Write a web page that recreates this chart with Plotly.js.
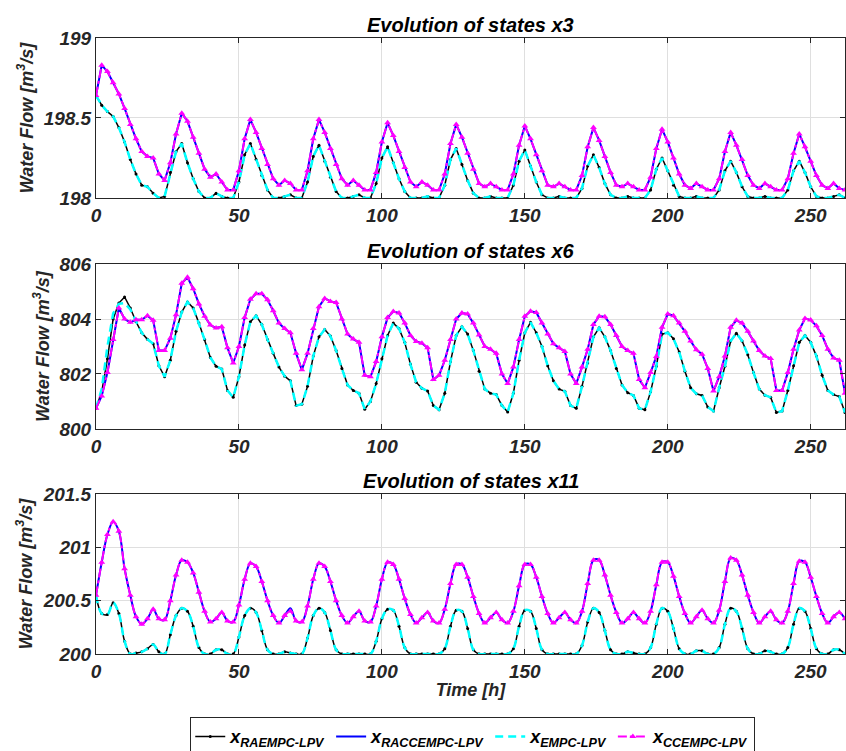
<!DOCTYPE html>
<html><head><meta charset="utf-8">
<script src="https://cdn.plot.ly/plotly-3.0.1.min.js"></script>
<style>html,body{margin:0;padding:0;background:#fff}#chart{width:846px;height:751px}</style>
</head><body><div id="chart"></div>
<script>
// sampling step of the series, in hours
const hoursPerSample = 2;

// ---------- State x3 ----------
const x3_ra = [
198.64,198.58,198.54,198.51,198.44,198.35,198.24,198.15,198.08,198.07,198.03,198.00,
198.01,198.16,198.29,198.34,198.22,198.12,198.04,198.00,198.00,198.03,198.01,198.00,
198.00,198.10,198.27,198.34,198.24,198.14,198.05,198.00,198.00,198.01,198.02,198.00,
198.00,198.10,198.26,198.33,198.23,198.13,198.04,198.00,198.00,198.01,198.02,198.00,
198.00,198.09,198.25,198.32,198.22,198.12,198.04,198.00,198.00,198.00,198.01,198.00,
198.00,198.08,198.24,198.31,198.21,198.11,198.03,198.00,198.00,198.01,198.00,198.00,
198.00,198.08,198.23,198.30,198.20,198.10,198.02,198.00,198.00,198.01,198.00,198.00,
198.00,198.06,198.20,198.27,198.19,198.09,198.02,198.00,198.00,198.01,198.00,198.00,
198.00,198.05,198.18,198.25,198.17,198.08,198.01,198.00,198.00,198.01,198.00,198.00,
198.00,198.05,198.17,198.23,198.16,198.07,198.01,198.00,198.00,198.01,198.00,198.00,
198.00,198.05,198.17,198.23,198.16,198.07,198.01,198.00,198.00,198.01,198.02,198.00];
const x3_racc = [
198.64,198.83,198.79,198.72,198.65,198.56,198.46,198.37,198.29,198.26,198.25,198.15,
198.11,198.22,198.40,198.53,198.48,198.38,198.28,198.18,198.13,198.15,198.10,198.05,
198.05,198.17,198.37,198.49,198.41,198.31,198.21,198.12,198.08,198.11,198.09,198.05,
198.05,198.17,198.37,198.49,198.41,198.31,198.21,198.12,198.08,198.11,198.08,198.05,
198.05,198.16,198.35,198.47,198.39,198.29,198.19,198.10,198.07,198.10,198.08,198.05,
198.05,198.15,198.34,198.46,198.38,198.28,198.18,198.09,198.07,198.09,198.07,198.05,
198.05,198.15,198.33,198.45,198.37,198.27,198.17,198.08,198.07,198.09,198.07,198.05,
198.05,198.14,198.32,198.44,198.36,198.26,198.16,198.08,198.07,198.09,198.07,198.05,
198.05,198.13,198.31,198.43,198.35,198.25,198.15,198.08,198.06,198.09,198.07,198.05,
198.05,198.12,198.29,198.41,198.33,198.24,198.14,198.08,198.06,198.09,198.07,198.05,
198.05,198.12,198.28,198.40,198.32,198.23,198.14,198.08,198.06,198.09,198.06,198.05];
const x3_empc = [
198.64,198.58,198.54,198.51,198.44,198.35,198.24,198.15,198.08,198.07,198.03,198.00,
198.01,198.16,198.29,198.34,198.22,198.12,198.04,198.00,198.00,198.03,198.01,198.00,
198.00,198.10,198.27,198.34,198.24,198.14,198.05,198.00,198.00,198.01,198.02,198.00,
198.00,198.10,198.26,198.33,198.23,198.13,198.04,198.00,198.00,198.01,198.02,198.00,
198.00,198.09,198.25,198.32,198.22,198.12,198.04,198.00,198.00,198.00,198.01,198.00,
198.00,198.08,198.24,198.31,198.21,198.11,198.03,198.00,198.00,198.01,198.00,198.00,
198.00,198.08,198.23,198.30,198.20,198.10,198.02,198.00,198.00,198.01,198.00,198.00,
198.00,198.06,198.20,198.27,198.19,198.09,198.02,198.00,198.00,198.01,198.00,198.00,
198.00,198.05,198.18,198.25,198.17,198.08,198.01,198.00,198.00,198.01,198.00,198.00,
198.00,198.05,198.17,198.23,198.16,198.07,198.01,198.00,198.00,198.01,198.00,198.00,
198.00,198.05,198.17,198.23,198.16,198.07,198.01,198.00,198.00,198.01,198.02,198.00];
const x3_cc = [
198.64,198.83,198.79,198.72,198.65,198.56,198.46,198.37,198.29,198.26,198.25,198.15,
198.11,198.22,198.40,198.53,198.48,198.38,198.28,198.18,198.13,198.15,198.10,198.05,
198.05,198.17,198.37,198.49,198.41,198.31,198.21,198.12,198.08,198.11,198.09,198.05,
198.05,198.17,198.37,198.49,198.41,198.31,198.21,198.12,198.08,198.11,198.08,198.05,
198.05,198.16,198.35,198.47,198.39,198.29,198.19,198.10,198.07,198.10,198.08,198.05,
198.05,198.15,198.34,198.46,198.38,198.28,198.18,198.09,198.07,198.09,198.07,198.05,
198.05,198.15,198.33,198.45,198.37,198.27,198.17,198.08,198.07,198.09,198.07,198.05,
198.05,198.14,198.32,198.44,198.36,198.26,198.16,198.08,198.07,198.09,198.07,198.05,
198.05,198.13,198.31,198.43,198.35,198.25,198.15,198.08,198.06,198.09,198.07,198.05,
198.05,198.12,198.29,198.41,198.33,198.24,198.14,198.08,198.06,198.09,198.07,198.05,
198.05,198.12,198.28,198.40,198.32,198.23,198.14,198.08,198.06,198.09,198.06,198.05];

// ---------- State x6 ----------
const x6_ra = [
800.75,801.35,802.55,804.00,804.58,804.80,804.40,803.90,803.50,803.26,803.10,802.30,
801.90,802.50,803.55,804.25,804.62,804.40,803.85,803.25,802.60,802.28,802.18,801.40,
801.15,801.90,803.05,803.90,804.12,803.80,803.25,802.75,802.25,801.92,801.75,800.85,
800.90,801.55,802.65,803.35,803.62,803.38,802.85,802.20,801.60,801.40,801.30,800.72,
801.00,801.65,802.55,803.40,803.85,803.65,803.15,802.35,801.70,801.48,801.38,800.85,
800.70,801.30,802.45,803.40,803.72,803.45,802.85,802.10,801.45,801.30,801.25,800.85,
800.62,801.30,802.50,803.50,803.88,803.50,803.00,802.30,801.75,801.45,801.37,800.85,
800.75,801.55,802.40,803.35,803.68,803.35,802.85,802.20,801.60,801.32,801.22,800.75,
800.70,801.35,802.28,803.45,803.50,803.28,802.80,802.10,801.50,801.28,801.22,800.80,
800.65,801.50,802.28,803.20,803.48,803.20,802.70,802.05,801.45,801.23,801.15,800.60,
800.65,801.40,802.30,803.15,803.40,803.15,802.65,801.95,801.40,801.25,801.18,800.60];
const x6_racc = [
800.75,801.20,802.05,803.25,804.40,804.00,803.88,803.97,803.97,804.12,803.95,802.85,
802.85,803.30,804.15,805.30,805.52,805.10,804.55,804.10,803.78,803.67,803.72,802.95,
802.40,803.00,804.05,804.72,804.92,804.92,804.70,804.30,803.85,803.65,803.50,802.75,
802.15,802.75,803.65,804.45,804.75,804.64,804.60,804.00,803.45,803.27,803.15,801.95,
801.90,802.45,803.35,804.05,804.27,804.22,803.85,803.40,803.18,803.12,802.95,801.80,
801.95,802.50,803.25,804.00,804.22,804.18,803.85,803.42,803.00,802.90,802.75,802.00,
801.65,802.25,803.25,804.10,804.28,804.24,803.85,803.45,803.10,802.95,802.82,802.00,
801.65,802.25,802.90,803.80,804.10,804.08,803.80,803.40,803.00,802.85,802.75,801.80,
801.50,802.05,802.64,803.70,804.18,804.12,803.85,803.55,803.20,802.88,802.72,802.20,
801.38,801.90,802.65,803.70,803.95,803.85,803.55,803.20,802.85,802.65,802.56,801.40,
801.40,802.05,802.90,803.60,804.02,803.96,803.75,803.40,802.90,802.58,802.50,801.30];
const x6_empc = [
800.75,801.45,803.00,804.20,804.55,804.58,804.35,803.90,803.50,803.26,803.10,802.30,
801.90,802.50,803.55,804.25,804.62,804.40,803.85,803.25,802.60,802.28,802.18,801.40,
801.15,801.90,803.05,803.90,804.12,803.80,803.25,802.75,802.25,801.92,801.75,800.85,
800.90,801.55,802.65,803.35,803.62,803.38,802.85,802.20,801.60,801.40,801.30,800.72,
801.00,801.65,802.55,803.40,803.85,803.65,803.15,802.35,801.70,801.48,801.38,800.85,
800.70,801.30,802.45,803.40,803.72,803.45,802.85,802.10,801.45,801.30,801.25,800.85,
800.62,801.30,802.50,803.50,803.88,803.50,803.00,802.30,801.75,801.45,801.37,800.85,
800.75,801.55,802.40,803.35,803.68,803.35,802.85,802.20,801.60,801.32,801.22,800.75,
800.70,801.35,802.28,803.45,803.50,803.28,802.80,802.10,801.50,801.28,801.22,800.80,
800.65,801.50,802.28,803.20,803.48,803.20,802.70,802.05,801.45,801.23,801.15,800.60,
800.65,801.40,802.30,803.15,803.40,803.15,802.65,801.95,801.40,801.25,801.18,800.60];
const x6_cc = [
800.75,801.20,802.05,803.25,804.40,804.00,803.88,803.97,803.97,804.12,803.95,802.85,
802.85,803.30,804.15,805.30,805.52,805.10,804.55,804.10,803.78,803.67,803.72,802.95,
802.40,803.00,804.05,804.72,804.92,804.92,804.70,804.30,803.85,803.65,803.50,802.75,
802.15,802.75,803.65,804.45,804.75,804.64,804.60,804.00,803.45,803.27,803.15,801.95,
801.90,802.45,803.35,804.05,804.27,804.22,803.85,803.40,803.18,803.12,802.95,801.80,
801.95,802.50,803.25,804.00,804.22,804.18,803.85,803.42,803.00,802.90,802.75,802.00,
801.65,802.25,803.25,804.10,804.28,804.24,803.85,803.45,803.10,802.95,802.82,802.00,
801.65,802.25,802.90,803.80,804.10,804.08,803.80,803.40,803.00,802.85,802.75,801.80,
801.50,802.05,802.64,803.70,804.18,804.12,803.85,803.55,803.20,802.88,802.72,802.20,
801.38,801.90,802.65,803.70,803.95,803.85,803.55,803.20,802.85,802.65,802.56,801.40,
801.40,802.05,802.90,803.60,804.02,803.96,803.75,803.40,802.90,802.58,802.50,801.30];

// ---------- State x11 ----------
const x11_ra = [
200.55,200.38,200.37,200.48,200.38,200.12,200.00,200.01,200.02,200.05,200.09,200.02,
200.00,200.18,200.36,200.43,200.40,200.26,200.06,200.00,200.00,200.04,200.04,200.00,
200.00,200.16,200.36,200.43,200.39,200.22,200.04,200.00,200.00,200.02,200.01,200.00,
200.00,200.15,200.36,200.43,200.39,200.22,200.04,200.00,200.00,200.00,200.00,200.00,
200.00,200.12,200.33,200.42,200.41,200.26,200.06,200.00,200.00,200.00,200.00,200.00,
200.00,200.05,200.26,200.41,200.40,200.24,200.04,200.00,200.00,200.00,200.00,200.00,
200.00,200.05,200.26,200.41,200.40,200.24,200.04,200.00,200.00,200.00,200.00,200.00,
200.00,200.08,200.30,200.43,200.39,200.22,200.04,200.00,200.00,200.02,200.01,200.00,
200.00,200.06,200.28,200.43,200.40,200.24,200.05,200.00,200.00,200.03,200.03,200.00,
200.00,200.06,200.28,200.43,200.40,200.24,200.05,200.00,200.00,200.03,200.02,200.00,
200.00,200.06,200.28,200.43,200.40,200.24,200.05,200.00,200.00,200.04,200.04,200.00];
const x11_racc = [
200.55,200.86,201.12,201.24,201.15,200.80,200.55,200.35,200.28,200.33,200.42,200.33,
200.32,200.50,200.74,200.88,200.86,200.76,200.58,200.40,200.30,200.33,200.39,200.31,
200.30,200.46,200.70,200.85,200.82,200.68,200.50,200.36,200.29,200.36,200.43,200.31,
200.30,200.45,200.70,200.85,200.82,200.68,200.50,200.36,200.29,200.35,200.40,200.31,
200.30,200.45,200.70,200.86,200.84,200.70,200.52,200.37,200.29,200.34,200.39,200.31,
200.29,200.42,200.66,200.84,200.84,200.72,200.54,200.38,200.29,200.34,200.39,200.32,
200.29,200.40,200.64,200.84,200.84,200.72,200.54,200.38,200.29,200.34,200.39,200.32,
200.29,200.40,200.66,200.88,200.88,200.74,200.55,200.39,200.29,200.33,200.39,200.33,
200.29,200.40,200.65,200.86,200.86,200.73,200.54,200.38,200.29,200.35,200.41,200.33,
200.29,200.41,200.68,200.90,200.88,200.74,200.55,200.39,200.29,200.35,200.40,200.32,
200.29,200.40,200.66,200.87,200.86,200.72,200.54,200.38,200.29,200.35,200.39,200.33];
const x11_empc = [
200.55,200.38,200.37,200.48,200.38,200.12,200.00,200.01,200.02,200.05,200.09,200.02,
200.00,200.18,200.36,200.43,200.40,200.26,200.06,200.00,200.00,200.04,200.04,200.00,
200.00,200.16,200.36,200.43,200.39,200.22,200.04,200.00,200.00,200.02,200.01,200.00,
200.00,200.15,200.36,200.43,200.39,200.22,200.04,200.00,200.00,200.00,200.00,200.00,
200.00,200.12,200.33,200.42,200.41,200.26,200.06,200.00,200.00,200.00,200.00,200.00,
200.00,200.05,200.26,200.41,200.40,200.24,200.04,200.00,200.00,200.00,200.00,200.00,
200.00,200.05,200.26,200.41,200.40,200.24,200.04,200.00,200.00,200.00,200.00,200.00,
200.00,200.08,200.30,200.43,200.39,200.22,200.04,200.00,200.00,200.02,200.01,200.00,
200.00,200.06,200.28,200.43,200.40,200.24,200.05,200.00,200.00,200.03,200.03,200.00,
200.00,200.06,200.28,200.43,200.40,200.24,200.05,200.00,200.00,200.03,200.02,200.00,
200.00,200.06,200.28,200.43,200.40,200.24,200.05,200.00,200.00,200.04,200.04,200.00];
const x11_cc = [
200.55,200.86,201.12,201.24,201.15,200.80,200.55,200.35,200.28,200.33,200.42,200.33,
200.32,200.50,200.74,200.88,200.86,200.76,200.58,200.40,200.30,200.33,200.39,200.31,
200.30,200.46,200.70,200.85,200.82,200.68,200.50,200.36,200.29,200.36,200.40,200.31,
200.30,200.45,200.70,200.85,200.82,200.68,200.50,200.36,200.29,200.35,200.40,200.31,
200.30,200.45,200.70,200.86,200.84,200.70,200.52,200.37,200.29,200.34,200.39,200.31,
200.29,200.42,200.66,200.84,200.84,200.72,200.54,200.38,200.29,200.34,200.39,200.32,
200.29,200.40,200.64,200.84,200.84,200.72,200.54,200.38,200.29,200.34,200.39,200.32,
200.29,200.40,200.66,200.88,200.88,200.74,200.55,200.39,200.29,200.33,200.39,200.33,
200.29,200.40,200.65,200.86,200.86,200.73,200.54,200.38,200.29,200.35,200.41,200.33,
200.29,200.41,200.68,200.90,200.88,200.74,200.55,200.39,200.29,200.35,200.40,200.32,
200.29,200.40,200.66,200.87,200.86,200.72,200.54,200.38,200.29,200.35,200.39,200.33];

// ---------- labels ----------
const seriesNames = ['x<sub>RAEMPC-LPV</sub>','x<sub>RACCEMPC-LPV</sub>','x<sub>EMPC-LPV</sub>','x<sub>CCEMPC-LPV</sub>'];
const panelTitles = ['Evolution of states x3','Evolution of states x6','Evolution of states x11'];
const yTitle = 'Water Flow [m<sup>3</sup>/s]';
const xTitle = 'Time [h]';
const xTicks = [0,50,100,150,200,250];
const yTicks = [[198,198.5,199],[800,802,804,806],[200,200.5,201,201.5]];
const yRanges = [[198,199],[800,806],[200,201.5]];

const time = x3_ra.map((_, i) => i * hoursPerSample);

const FONT = '"Liberation Sans", Arial, Helvetica, sans-serif';
const styles = [
  {line:{color:'#000000', width:1.5, dash:'solid'}, mode:'lines+markers', marker:{symbol:'circle', size:3, color:'#000000'}},
  {line:{color:'#0000ff', width:2, dash:'solid'}, mode:'lines'},
  {line:{color:'#00ffff', width:2.5, dash:'8px,5px'}, mode:'lines'},
  {line:{color:'#ff00ff', width:2, dash:'dashdot'}, mode:'lines+markers', marker:{symbol:'triangle-up', size:6, color:'#ff00ff'}}
];
const panels = [
  [x3_ra, x3_racc, x3_empc, x3_cc],
  [x6_ra, x6_racc, x6_empc, x6_cc],
  [x11_ra, x11_racc, x11_empc, x11_cc]
];
const shapes = ['linear','linear','spline'];

const traces = [];
panels.forEach((series, p) => {
  series.forEach((vals, s) => {
    const st = styles[s];
    const tr = {
      x: time, y: vals, type: 'scatter', mode: st.mode,
      name: seriesNames[s], legendgroup: 's' + s, showlegend: p === 0,
      line: Object.assign({shape: shapes[p]}, st.line),
      xaxis: p === 0 ? 'x' : 'x' + (p + 1),
      yaxis: p === 0 ? 'y' : 'y' + (p + 1)
    };
    if (st.marker) tr.marker = st.marker;
    traces.push(tr);
  });
});

const tickFont = {family: FONT, size: 19, color: '#262626', weight: 'bold', style: 'italic'};
const domains = [[0.7403, 1], [0.3653, 0.6331], [0, 0.2597]];

function xAxis(p) {
  const a = {
    domain: [0, 1], anchor: p === 0 ? 'y' : 'y' + (p + 1), range: [0, 262],
    tickvals: xTicks, showgrid: true, gridcolor: '#dfdfdf', gridwidth: 1,
    showline: true, mirror: 'ticks', linecolor: '#262626', linewidth: 1,
    ticks: 'inside', ticklen: 5, tickcolor: '#262626', tickfont: tickFont, zeroline: false,
    automargin: false
  };
  if (p === 2) a.title = {text: xTitle, font: {family: FONT, size: 18, color: '#262626', weight: 'bold', style: 'italic'}, standoff: 2};
  return a;
}
function yAxis(p) {
  return {
    domain: domains[p], anchor: p === 0 ? 'x' : 'x' + (p + 1), range: yRanges[p],
    tickvals: yTicks[p], showgrid: true, gridcolor: '#dfdfdf', gridwidth: 1,
    showline: true, mirror: 'ticks', linecolor: '#262626', linewidth: 1,
    ticks: 'inside', ticklen: 5, tickcolor: '#262626', tickfont: tickFont, zeroline: false,
    automargin: false,
    title: {text: yTitle, font: {family: FONT, size: 18, color: '#262626', weight: 'bold', style: 'italic'}, standoff: 5}
  };
}

const layout = {
  width: 846, height: 751,
  margin: {l: 96, r: 1, t: 38, b: 97},
  paper_bgcolor: '#ffffff', plot_bgcolor: '#ffffff',
  font: {family: FONT},
  showlegend: true,
  legend: {
    orientation: 'h', xref: 'paper', x: 0.503, xanchor: 'center',
    yref: 'container', y: 0.045, yanchor: 'top',
    bordercolor: '#262626', borderwidth: 1, bgcolor: '#ffffff',
    font: {family: FONT, size: 18, color: '#000000', weight: 'bold', style: 'italic'},
    itemwidth: 30, tracegroupgap: 0
  },
  annotations: panelTitles.map((t, p) => ({
    text: t, xref: 'paper', yref: 'paper', x: 0.5, y: domains[p][1],
    xanchor: 'center', yanchor: 'bottom', yshift: 0, showarrow: false,
    font: {family: FONT, size: 20, color: '#000000', weight: 'bold', style: 'italic'}
  }))
};
for (let p = 0; p < 3; p++) {
  layout[p === 0 ? 'xaxis' : 'xaxis' + (p + 1)] = xAxis(p);
  layout[p === 0 ? 'yaxis' : 'yaxis' + (p + 1)] = yAxis(p);
}

Plotly.newPlot('chart', traces, layout, {displayModeBar: false, responsive: false});
</script>
</body></html>
